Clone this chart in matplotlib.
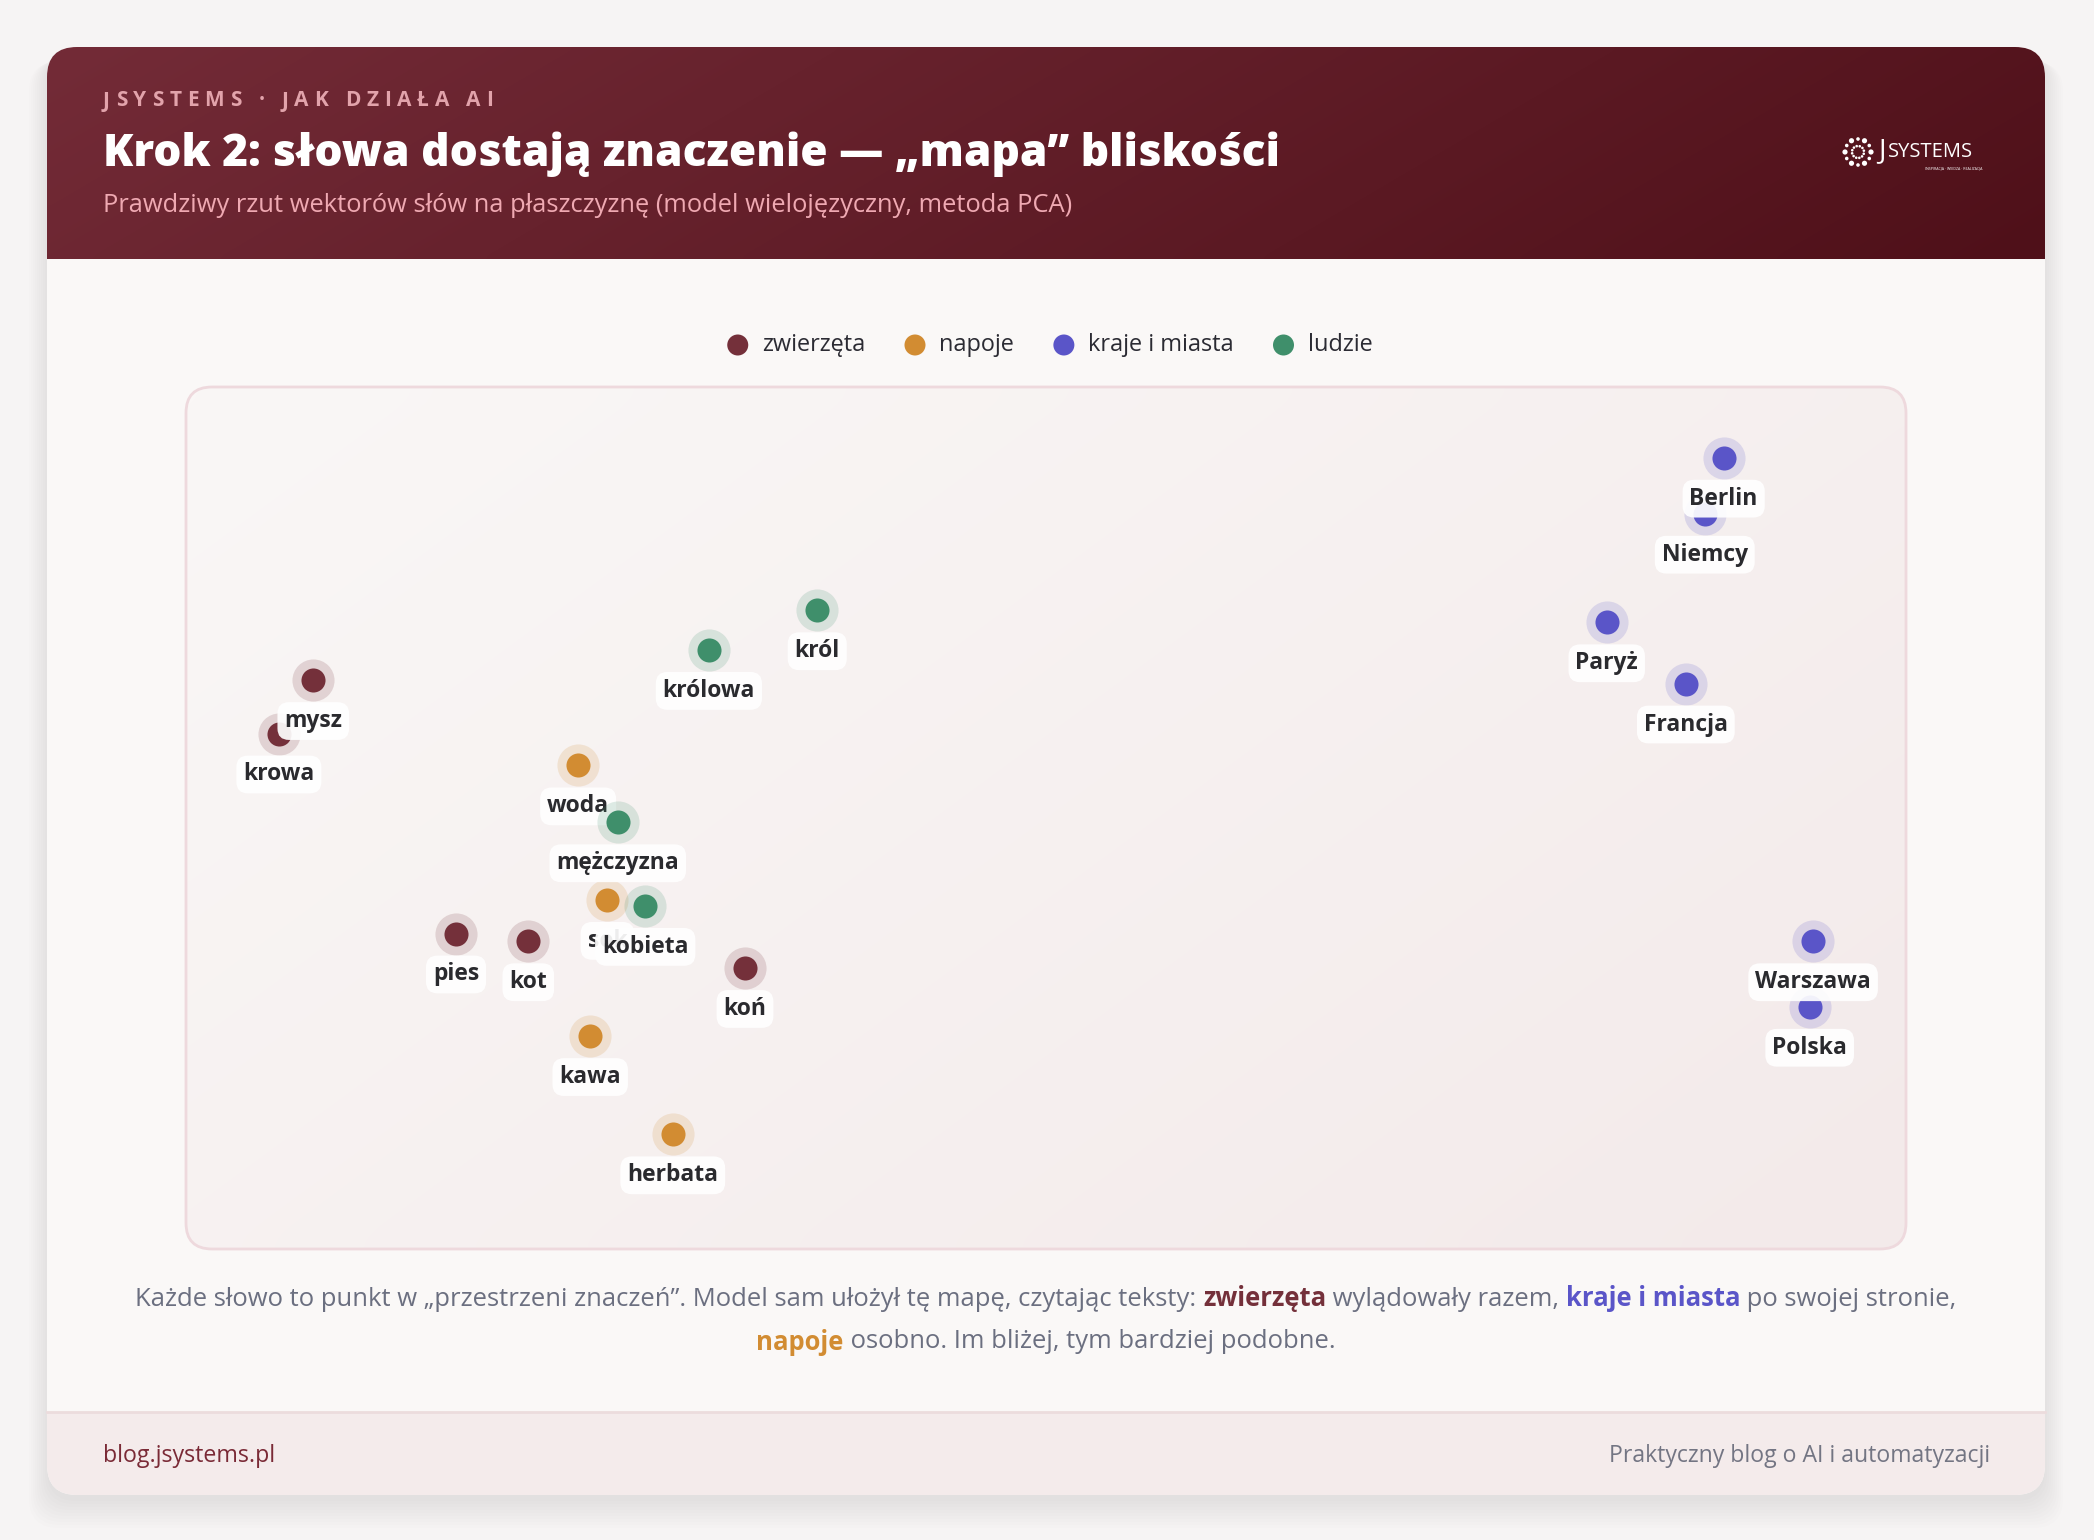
import numpy as np
import matplotlib
matplotlib.use("Agg")
import matplotlib.pyplot as plt
from matplotlib.patches import FancyBboxPatch, Rectangle, Circle
from matplotlib.colors import LinearSegmentedColormap

plt.rcParams['font.family'] = ['Open Sans', 'DejaVu Sans']

# --- data (positions as % of the map area) ---
groups = ["zwierzęta", "napoje", "kraje i miasta", "ludzie"]
group_colors = ["#74303a", "#d28c32", "#5a55c8", "#3f8f6b"]

words = ["krowa", "mysz", "pies", "kot", "koń",
         "woda", "sok", "kawa", "herbata",
         "Niemcy", "Berlin", "Francja", "Paryż", "Polska", "Warszawa",
         "królowa", "król", "mężczyzna", "kobieta"]
word_group = [0, 0, 0, 0, 0,
              1, 1, 1, 1,
              2, 2, 2, 2, 2, 2,
              3, 3, 3, 3]
xs = [5.4, 7.4, 15.7, 19.9, 32.5,
      22.8, 24.5, 23.5, 28.3,
      88.3, 89.4, 87.2, 82.6, 94.4, 94.6,
      30.4, 36.7, 25.1, 26.7]
ys = [59.8, 66.0, 36.6, 35.7, 32.6,
      56.1, 40.5, 24.7, 13.3,
      85.3, 91.8, 65.6, 72.7, 28.1, 35.7,
      69.5, 74.1, 49.5, 39.8]

W, H = 2094, 1540
fig = plt.figure(figsize=(W / 100, H / 100), dpi=100)
fig.patch.set_facecolor("#f6f4f4")
bg = fig.add_axes([0, 0, 1, 1])
bg.set_xlim(0, W)
bg.set_ylim(H, 0)
bg.axis("off")

renderer = fig.canvas.get_renderer()


def text_w(s, **kw):
    t = bg.text(0, 0, "|" + s + "|", **kw)
    t2 = bg.text(0, 0, "||", **kw)
    w = t.get_window_extent(renderer).width - t2.get_window_extent(renderer).width
    t.remove()
    t2.remove()
    return w


def runs(x, y, parts, ha="left", size=14, zorder=10):
    # parts: (text, color, weight)
    widths = [text_w(p[0], fontsize=size, fontweight=p[2]) for p in parts]
    total = sum(widths)
    if ha == "center":
        x = x - total / 2
    elif ha == "right":
        x = x - total
    for (s, c, wgt), w in zip(parts, widths):
        bg.text(x, y, s, color=c, fontsize=size, fontweight=wgt,
                va="center", ha="left", zorder=zorder)
        x += w


# card shadow
for i in range(10):
    bg.add_patch(FancyBboxPatch((47 - i * 2, 47 + 6 + i), 1998 + i * 4, 1448 + i * 2,
                                boxstyle="round,pad=0,rounding_size=30",
                                fc="#8a6a6e", ec="none", alpha=0.012, zorder=0))
card = FancyBboxPatch((47, 47), 1998, 1448, boxstyle="round,pad=0,rounding_size=30",
                      fc="#faf8f7", ec="none", zorder=1)
bg.add_patch(card)

# header gradient
hcmap = LinearSegmentedColormap.from_list("h", ["#732b37", "#4f1019"])
gx = np.linspace(0, 1, 300)
gy = np.linspace(0, 1, 40)
grad = gx[None, :] * 0.85 + gy[:, None] * 0.15
im = bg.imshow(grad, cmap=hcmap, extent=(47, 2045, 259, 47), aspect="auto",
               zorder=2, interpolation="bicubic")
im.set_clip_path(card)

# footer
foot = Rectangle((47, 1412), 1998, 83, fc="#f4ebeb", ec="none", zorder=2)
bg.add_patch(foot)
foot.set_clip_path(card)
bg.plot([47, 2045], [1412, 1412], color="#ecdcdd", lw=2, zorder=3)

# header texts
x = 103
for ch in "JSYSTEMS · JAK DZIAŁA AI":
    bg.text(x, 101, ch, color="#e2a3ab", fontsize=15, fontweight="bold",
            va="center", ha="left", zorder=10)
    x += text_w(ch, fontsize=15, fontweight="bold") + 5.8
bg.text(103, 154, "Krok 2: słowa dostają znaczenie — „mapa” bliskości", color="white",
        fontsize=31.9, fontweight=800, va="center", ha="left", zorder=10)
bg.text(103, 205, "Prawdziwy rzut wektorów słów na płaszczyznę (model wielojęzyczny, metoda PCA)",
        color="#efa9b2", fontsize=18.4, va="center", ha="left", zorder=10)

# logo
ang = np.linspace(0, 2 * np.pi, 12, endpoint=False)
for k, a in enumerate(ang):
    r = 2.6 if k % 2 == 0 else 1.8
    bg.add_patch(Circle((1858 + 13 * np.cos(a), 152 + 13 * np.sin(a)), r,
                        fc="white", ec="none", zorder=10))
    bg.add_patch(Circle((1858 + 6 * np.cos(a + 0.3), 152 + 6 * np.sin(a + 0.3)), 1.3,
                        fc="white", ec="none", zorder=10))
bg.text(1878, 151, "J", color="white", fontsize=20, va="center", ha="left", zorder=10)
bg.text(1888, 152, "SYSTEMS", color="white", fontsize=14.5, va="center", ha="left", zorder=10)
bg.text(1982, 168, "INSPIRACJA · WIEDZA · REALIZACJA", color="white", fontsize=2.6,
        va="center", ha="right", zorder=10)

# legend
lsize = 16.9
items = []
for g, c in zip(groups, group_colors):
    items.append((g, c, text_w(g, fontsize=lsize)))
gap_dot = 24
gap_item = 50
total = sum(gap_dot + w for _, _, w in items) + gap_item * (len(items) - 1)
x = 1046 - total / 2 + 9
for g, c, w in items:
    bg.add_patch(Circle((x, 345), 10.5, fc=c, ec="none", zorder=10))
    bg.text(x + gap_dot, 345, g, color="#2b2b33", fontsize=lsize, va="center",
            ha="left", zorder=10)
    x += gap_dot + w + gap_item

# map box
box = FancyBboxPatch((186, 387), 1720, 862, boxstyle="round,pad=0,rounding_size=26",
                     fc="none", ec="#eed9dd", lw=2, zorder=5)
bg.add_patch(box)
bcmap = LinearSegmentedColormap.from_list("b", ["#faf7f6", "#f3eaea"])
bgrad = gx[None, :] * 0.6 + gy[:, None] * 0.4
bim = bg.imshow(bgrad, cmap=bcmap, extent=(186, 1906, 1249, 387), aspect="auto",
                zorder=4, interpolation="bicubic")
bim.set_clip_path(box)

# caption
csize = 18.45
gray = "#6b6f80"
runs(1046, 1299, [
    ("Każde słowo to punkt w „przestrzeni znaczeń”. Model sam ułożył tę mapę, czytając teksty: ", gray, "normal"),
    ("zwierzęta", group_colors[0], "bold"),
    (" wylądowały razem, ", gray, "normal"),
    ("kraje i miasta", group_colors[2], "bold"),
    (" po swojej stronie,", gray, "normal"),
], ha="center", size=csize)
runs(1046, 1342, [
    ("napoje", group_colors[1], "bold"),
    (" osobno. Im bliżej, tym bardziej podobne.", gray, "normal"),
], ha="center", size=csize)

# footer texts
bg.text(103, 1456, "blog.jsystems.pl", color="#7a2a36", fontsize=16.7, va="center",
        ha="left", zorder=10)
bg.text(1990, 1456, "Praktyczny blog o AI i automatyzacji", color="#737583", fontsize=16.6,
        va="center", ha="right", zorder=10)

# scatter map
ax = fig.add_axes([186 / W, (H - 1249) / H, 1720 / W, 862 / H])
ax.set_xlim(0, 100)
ax.set_ylim(0, 100)
ax.axis("off")
ax.patch.set_alpha(0)

for i, (wd, g, xv, yv) in enumerate(zip(words, word_group, xs, ys)):
    c = group_colors[g]
    z = 3 + 2 * i
    ax.scatter([xv], [yv], s=920, color=c, alpha=0.17, lw=0, zorder=z)
    ax.scatter([xv], [yv], s=300, color=c, lw=0, zorder=z)
    ax.annotate(wd, (xv, yv), xytext=(0, -29.5), textcoords="offset points",
                ha="center", va="center", fontsize=16.5, fontweight="bold",
                color="#2a2a2e", zorder=z + 1,
                bbox=dict(boxstyle="round,pad=0.3,rounding_size=0.5", fc="white",
                          ec="none", alpha=0.92))

fig.savefig("out.png", dpi=100, facecolor=fig.get_facecolor())
